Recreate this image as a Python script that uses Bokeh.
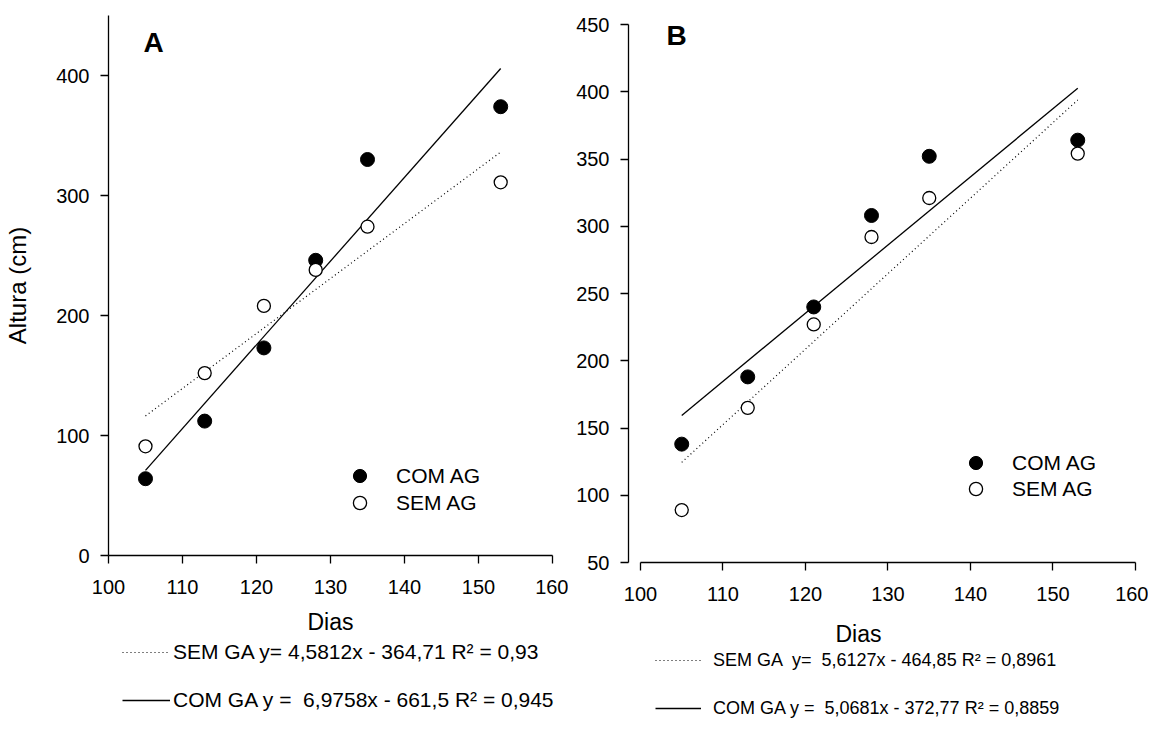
from bokeh.plotting import figure
from bokeh.layouts import row, column
from bokeh.models import Label, Legend, LegendItem, Range1d, FixedTicker
from bokeh.embed import file_html
from bokeh.resources import INLINE

# ---- data ----
dias = [105, 113, 121, 128, 135, 153]
a_com = [64, 112, 173, 246, 330, 374]
a_sem = [91, 152, 208, 238, 274, 311]
b_com = [138, 188, 240, 308, 352, 364]
b_sem = [89, 165, 227, 292, 321, 354]

fit_x = [105, 153]
a_fit_sem = (4.5812, -364.71)
a_fit_com = (6.9758, -661.5)
b_fit_sem = (5.6127, -464.85)
b_fit_com = (5.0681, -372.77)

a_eq_sem = "SEM GA y= 4,5812x - 364,71 R² = 0,93"
a_eq_com = "COM GA y =  6,9758x - 661,5 R² = 0,945"
b_eq_sem = "SEM GA  y=  5,6127x - 464,85 R² = 0,8961"
b_eq_com = "COM GA y =  5,0681x - 372,77 R² = 0,8859"

x_ticks = [100, 110, 120, 130, 140, 150, 160]
a_y_ticks = [0, 100, 200, 300, 400]
b_y_ticks = [50, 100, 150, 200, 250, 300, 350, 400, 450]

FONT = "Liberation Sans"
DOT = "1 3"


def style_axes(p):
    for ax in p.axis:
        ax.axis_line_color = "black"
        ax.axis_line_width = 1.3
        ax.major_tick_line_color = "black"
        ax.major_tick_line_width = 1.3
        ax.major_tick_in = 0
        ax.major_tick_out = 8
        ax.minor_tick_line_color = None
        ax.major_label_text_font = FONT
        ax.major_label_text_font_size = "20px"
        ax.major_label_text_color = "black"
        ax.axis_label_text_font = FONT
        ax.axis_label_text_font_style = "normal"
        ax.axis_label_text_color = "black"
    p.xaxis.major_label_standoff = 16
    p.yaxis.major_label_standoff = 11
    p.grid.visible = False
    p.outline_line_color = None


def add_series(p, com, sem, fit_sem, fit_com):
    p.line(fit_x, [fit_sem[0] * x + fit_sem[1] for x in fit_x],
           line_color="black", line_width=1.2, line_dash=DOT)
    p.line(fit_x, [fit_com[0] * x + fit_com[1] for x in fit_x],
           line_color="black", line_width=1.3)
    r_com = p.scatter(dias, com, size=14, fill_color="black", line_color="black")
    r_sem = p.scatter(dias, sem, size=13, fill_color="white", line_color="black",
                      line_width=1.3)
    return r_com, r_sem


def marker_legend(p, label, r, loc):
    p.add_layout(Legend(items=[LegendItem(label=label, renderers=[r])],
                        location=loc, glyph_width=33, glyph_height=33, label_standoff=20,
                        padding=0, margin=0, border_line_color=None,
                        background_fill_alpha=0, label_text_font=FONT,
                        label_text_font_size="21px", label_text_color="black"))


def eq_panel(left, fw, right, h, eq1, eq2, loc, gw, standoff, fsize, dias_xy):
    e = figure(frame_width=fw, frame_height=h, min_border_left=left,
               min_border_right=right, min_border_top=0, min_border_bottom=0,
               x_range=Range1d(0, 1), y_range=Range1d(0, 1),
               x_axis_type=None, y_axis_type=None,
               output_backend="svg", toolbar_location=None)
    e.outline_line_color = None
    e.grid.visible = False
    # legend-only sample renderers, kept outside the visible range
    s1 = e.line([0, 1], [-5, -5], line_color="black", line_width=1.2, line_dash=DOT)
    s2 = e.line([0, 1], [-5, -5], line_color="black", line_width=1.3)
    e.add_layout(Legend(items=[LegendItem(label=eq1, renderers=[s1]),
                               LegendItem(label=eq2, renderers=[s2])],
                        location=loc, orientation="vertical",
                        glyph_width=gw, glyph_height=24, label_height=24,
                        label_standoff=standoff, spacing=24, padding=0, margin=0,
                        border_line_color=None, background_fill_alpha=0,
                        label_text_font=FONT, label_text_font_size=fsize,
                        label_text_color="black"))
    e.add_layout(Label(x=dias_xy[0], y=dias_xy[1], x_units="screen", y_units="screen",
                       text="Dias", text_font=FONT, text_font_size="23px",
                       text_color="black", text_align="center", text_baseline="middle"))
    return e


# ---- panel A ----
pa = figure(frame_width=444, frame_height=540, min_border_left=108, min_border_right=16,
            min_border_top=15, min_border_bottom=48,
            x_range=Range1d(100, 160), y_range=Range1d(0, 450),
            output_backend="svg", toolbar_location=None)
pa.xaxis.ticker = FixedTicker(ticks=x_ticks)
pa.yaxis.ticker = FixedTicker(ticks=a_y_ticks)
pa.yaxis.axis_label = "Altura (cm)"
style_axes(pa)
pa.yaxis.axis_label_text_font_size = "24px"
pa.yaxis.axis_label_standoff = 22
ra_com, ra_sem = add_series(pa, a_com, a_sem, a_fit_sem, a_fit_com)
marker_legend(pa, "COM AG", ra_com, (235, 63))
marker_legend(pa, "SEM AG", ra_sem, (235, 36))
pa.add_layout(Label(x=35, y=513, x_units="screen", y_units="screen", text="A",
                    text_font=FONT, text_font_size="28px", text_font_style="bold",
                    text_color="black", text_baseline="middle"))
ea = eq_panel(108, 460, 0, 137, a_eq_sem, a_eq_com, (14, 28), 48, 3, "21px", (222, 119))

# ---- panel B ----
pb = figure(frame_width=507, frame_height=547, min_border_left=60, min_border_right=13,
            min_border_top=15, min_border_bottom=48,
            x_range=Range1d(100 - 12 / 8.26, 160), y_range=Range1d(50, 450 + 9 / 1.345),
            output_backend="svg", toolbar_location=None)
pb.xaxis.ticker = FixedTicker(ticks=x_ticks)
pb.yaxis.ticker = FixedTicker(ticks=b_y_ticks)
pb.xaxis.bounds = (100, 160)
pb.yaxis.bounds = (50, 450)
style_axes(pb)
rb_com, rb_sem = add_series(pb, b_com, b_sem, b_fit_sem, b_fit_com)
marker_legend(pb, "COM AG", rb_com, (331, 83))
marker_legend(pb, "SEM AG", rb_sem, (331, 57))
pb.add_layout(Label(x=38, y=527, x_units="screen", y_units="screen", text="B",
                    text_font=FONT, text_font_size="28px", text_font_style="bold",
                    text_color="black", text_baseline="middle"))
eb = eq_panel(60, 507, 13, 130, b_eq_sem, b_eq_com, (27, 20), 46, 12, "18px", (230, 107))

layout = row(column(pa, ea), column(pb, eb))
open("out.html", "w").write(file_html(layout, INLINE))
